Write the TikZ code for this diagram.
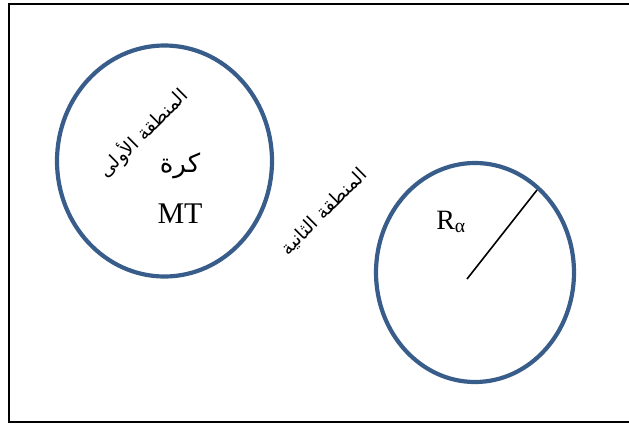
\documentclass[tikz,border=0pt]{standalone}
\usepackage{fontspec}
\setmainfont{Liberation Serif}
\newfontfamily\arabicfont[Script=Arabic]{DejaVu Sans}
\TeXXeTstate=1
\usepackage{xcolor}
\usetikzlibrary{positioning,calc}
\definecolor{ringblue}{RGB}{56,93,138}

\begin{document}
\begin{tikzpicture}[x=1pt,y=-1pt,
  ring/.style={draw=ringblue,line width=4.2pt},
  zone/.style={font=\arabicfont\fontsize{19}{21}\selectfont,rotate=45,inner sep=0pt},
  big/.style={font=\fontsize{30}{32}\selectfont,inner sep=0pt}]
\useasboundingbox (0,0) rectangle (629,426);
\draw[line width=1.8pt] (629,4) -- (9,4) -- (9,422) -- (629,422);
% first sphere
\coordinate (c1) at (164.5,161);
\draw[ring] (c1) ellipse [x radius=107.5,y radius=115.5];
\node[zone] (z1) at (143,133) {\beginR المنطقة الأولى\endR};
\node[big,font=\arabicfont\fontsize{26}{30}\selectfont] (kura) at (180,166) {\beginR كرة\endR};
\node[big] (mt) at (180,214) {MT};
% second sphere
\coordinate (c2) at (475,272.5);
\draw[ring] (c2) ellipse [x radius=99,y radius=109.5];
\coordinate (o) at (467,279);
\coordinate (e) at (537,190);
\draw[line width=1.6pt] (o) -- (e);
\node[big,font=\fontsize{28}{30}\selectfont] (ra) at (451,222) {R\textsubscript{α}};
\node[zone] (z2) at (324,212) {\beginR المنطقة الثانية\endR};
\end{tikzpicture}
\end{document}
